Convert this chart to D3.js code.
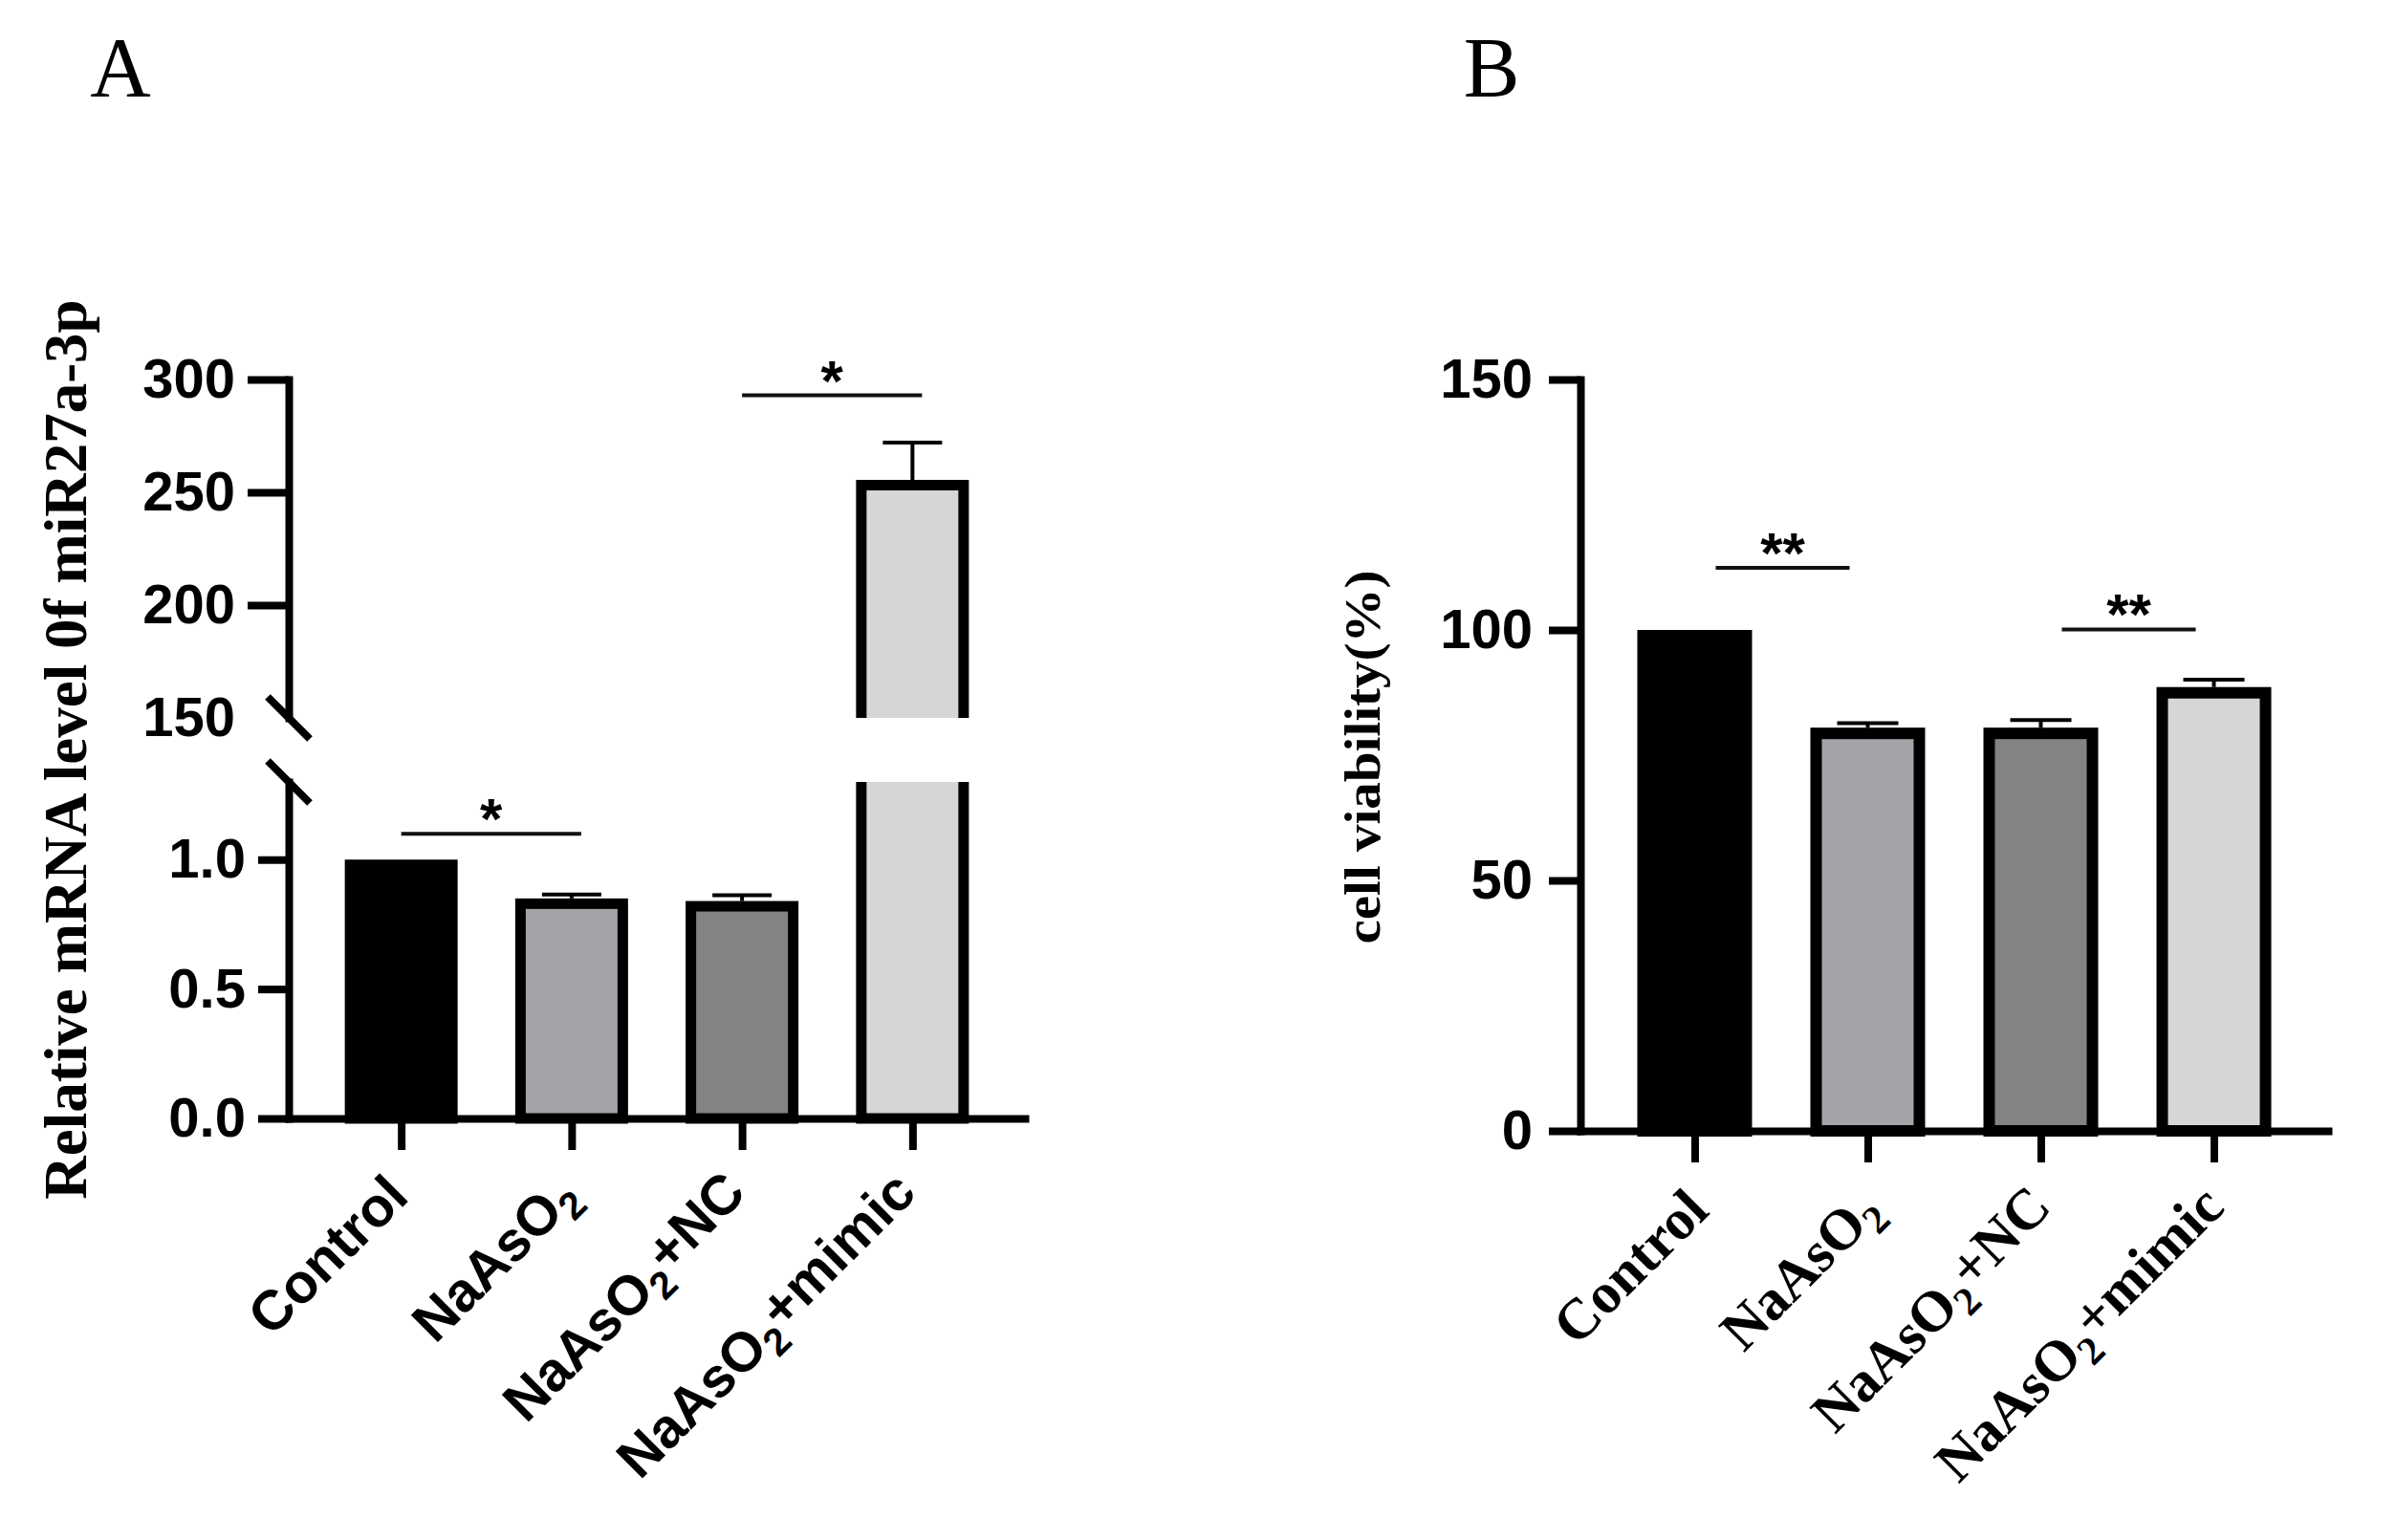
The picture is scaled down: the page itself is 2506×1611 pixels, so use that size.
<!DOCTYPE html>
<html>
<head>
<meta charset="utf-8">
<script src="https://cdn.jsdelivr.net/npm/d3@7"></script>
<style>
  body { margin: 0; background: #fff; }
  svg { display: block; }
</style>
</head>
<body>
<svg id="fig" width="2506" height="1611"></svg>
<script>
// data
var categories = ["Control", "NaAsO2", "NaAsO2+NC", "NaAsO2+mimic"];
var fills = ["#000000", "#a4a4a8", "#838383", "#d6d6d6"];

var mirnaMean = [1.0, 0.85, 0.84, 255.5];
var mirnaErr = [0, 0.015, 0.022, 16.5];
var mirnaLowTicks = [0, 0.5, 1.0];
var mirnaHighTicks = [150, 200, 250, 300];
var mirnaSig = [
	{a: 0, b: 1, y: 1.10, label: "*", seg: "low"},
	{a: 2, b: 3, y: 293, label: "*", seg: "high"}
];

var viabMean = [100, 80.5, 80.5, 88.6];
var viabErr = [0, 0.9, 1.5, 1.5];
var viabTicks = [0, 50, 100, 150];
var viabSig = [
	{a: 0, b: 1, y: 112.4, label: "**"},
	{a: 2, b: 3, y: 100.1, label: "**"}
];

var SANS = "'Liberation Sans', Arial, sans-serif",
	SERIF = "'Liberation Serif', 'Times New Roman', serif";

var svg = d3.select("#fig");
svg.append("rect").attr("width", 2506).attr("height", 1611).attr("fill", "#fff");

function styleAxis(g, fontSize){
	g.selectAll(".domain").attr("stroke", "#000").attr("stroke-width", 8)
		.attr("stroke-linecap", "square");
	g.selectAll(".tick line").attr("stroke", "#000").attr("stroke-width", 8);
	g.selectAll(".tick text").attr("fill", "#000")
		.style("font-family", SANS).style("font-weight", "bold")
		.style("font-size", fontSize + "px");
}

// label with subscript 2 in NaAsO2
function writeLabel(text, d){
	var parts = d.split("O2");
	text.append("tspan").text(parts[0] + (parts.length > 1 ? "O" : ""));
	if(parts.length > 1){
		text.append("tspan").text("2").attr("font-size", "0.7em").attr("dy", "0.3em");
		if(parts[1]) text.append("tspan").text(parts[1]).attr("dy", "-0.3em");
	}
}

function drawErr(g, cx, y0, y1, capW){
	g.append("line").attr("x1", cx).attr("x2", cx).attr("y1", y0).attr("y2", y1)
		.attr("stroke", "#000").attr("stroke-width", 4);
	g.append("line").attr("x1", cx - capW/2).attr("x2", cx + capW/2).attr("y1", y1).attr("y2", y1)
		.attr("stroke", "#000").attr("stroke-width", 4);
}

function drawSig(g, x1, x2, y, label){
	g.append("line").attr("x1", x1).attr("x2", x2).attr("y1", y).attr("y2", y)
		.attr("stroke", "#111").attr("stroke-width", 4);
	g.append("text").attr("x", (x1 + x2)/2).attr("y", y + 5)
		.attr("text-anchor", "middle").style("font-family", SANS)
		.style("font-weight", "bold").style("font-size", "60px").text(label);
}

// ---------- panel A ----------
(function(){
	var axisX = 302, baseY = 1170, breakHi = 751, breakLo = 818;
	var outerW = 118, sw = 11;
	var x = d3.scalePoint().domain(categories).range([axisX, 1072]).padding(0.66);
	var yLo = d3.scaleLinear().domain([0, 1.3]).range([baseY, breakLo]);
	var yHi = d3.scaleLinear().domain([150, 300]).range([breakHi, 397]);
	var g = svg.append("g");

	svg.append("text").attr("x", 126).attr("y", 100).attr("text-anchor", "middle")
		.style("font-family", SERIF).style("font-size", "88px").text("A");

	var defs = svg.append("defs");
	defs.append("clipPath").attr("id", "clipHi").append("rect")
		.attr("x", 0).attr("y", 0).attr("width", 1200).attr("height", yHi(150));
	defs.append("clipPath").attr("id", "clipLo").append("rect")
		.attr("x", 0).attr("y", yLo(1.3)).attr("width", 1200).attr("height", 600);

	// bars
	categories.forEach(function(c, i){
		var cx = x(c), v = mirnaMean[i], e = mirnaErr[i];
		var bx = cx - outerW/2 + sw/2, bw = outerW - sw;
		if(v <= 1.3){
			g.append("rect").attr("x", bx).attr("y", yLo(v) + sw/2)
				.attr("width", bw).attr("height", yLo(0) - yLo(v) - sw/2)
				.attr("fill", fills[i]).attr("stroke", "#000").attr("stroke-width", sw);
			if(e > 0) drawErr(g, cx, yLo(v), yLo(v + e), 62);
		} else {
			g.append("rect").attr("clip-path", "url(#clipHi)")
				.attr("x", bx).attr("y", yHi(v) + sw/2)
				.attr("width", bw).attr("height", yHi(150) - yHi(v) + 20)
				.attr("fill", fills[i]).attr("stroke", "#000").attr("stroke-width", sw);
			g.append("rect").attr("clip-path", "url(#clipLo)")
				.attr("x", bx).attr("y", yLo(1.3) - 20)
				.attr("width", bw).attr("height", yLo(0) - yLo(1.3) + 20)
				.attr("fill", fills[i]).attr("stroke", "#000").attr("stroke-width", sw);
			if(e > 0) drawErr(g, cx, yHi(v), yHi(v + e), 62);
		}
	});

	// axes
	var gLo = g.append("g").attr("transform", "translate(" + axisX + ",0)")
		.call(d3.axisLeft(yLo).tickValues(mirnaLowTicks).tickSize(32).tickSizeOuter(0)
			.tickPadding(13).tickFormat(d3.format(".1f")));
	styleAxis(gLo, 58);
	var gHi = g.append("g").attr("transform", "translate(" + axisX + ",0)")
		.call(d3.axisLeft(yHi).tickValues(mirnaHighTicks).tickSize(43).tickSizeOuter(0)
			.tickPadding(13));
	styleAxis(gHi, 58);
	gHi.selectAll(".tick").filter(function(d){ return d === 150; }).select("line").remove();

	var gx = g.append("g").attr("transform", "translate(0," + baseY + ")")
		.call(d3.axisBottom(x).tickSize(33).tickSizeOuter(0).tickFormat(""));
	styleAxis(gx, 54);

	// break marks
	[yHi(150), yLo(1.3)].forEach(function(yb){
		g.append("line").attr("x1", axisX - 22).attr("x2", axisX + 22)
			.attr("y1", yb - 22).attr("y2", yb + 22)
			.attr("stroke", "#000").attr("stroke-width", 8);
	});

	// x labels
	categories.forEach(function(c){
		var t = g.append("text")
			.attr("transform", "translate(" + (x(c) + 10) + ",1254) rotate(-45)")
			.attr("text-anchor", "end").style("font-family", SANS)
			.style("font-weight", "bold").style("font-size", "58px");
		writeLabel(t, c);
	});

	// significance
	mirnaSig.forEach(function(s){
		var yy = s.seg === "low" ? yLo(s.y) : yHi(s.y);
		drawSig(g, x(categories[s.a]), x(categories[s.b]) + 10, yy, s.label);
	});

	// y title
	g.append("text").attr("transform", "translate(90,784) rotate(-90)")
		.attr("text-anchor", "middle").style("font-family", SERIF)
		.style("font-weight", "bold").style("font-size", "63px")
		.text("Relative mRNA level 0f miR27a-3p");
})();

// ---------- panel B ----------
(function(){
	var axisX = 1653, baseY = 1183;
	var outerW = 120, sw = 12;
	var x = d3.scalePoint().domain(categories).range([axisX, 2435]).padding(0.66);
	var y = d3.scaleLinear().domain([0, 150]).range([baseY, 397]);
	var g = svg.append("g");

	svg.append("text").attr("x", 1560).attr("y", 100).attr("text-anchor", "middle")
		.style("font-family", SERIF).style("font-size", "88px").text("B");

	categories.forEach(function(c, i){
		var cx = x(c), v = viabMean[i], e = viabErr[i];
		g.append("rect").attr("x", cx - outerW/2 + sw/2).attr("y", y(v) + sw/2)
			.attr("width", outerW - sw).attr("height", y(0) - y(v) - sw/2)
			.attr("fill", fills[i]).attr("stroke", "#000").attr("stroke-width", sw);
		if(e > 0) drawErr(g, cx, y(v), y(v + e), 64);
	});

	var gy = g.append("g").attr("transform", "translate(" + axisX + ",0)")
		.call(d3.axisLeft(y).tickValues(viabTicks).tickSize(33).tickSizeOuter(0).tickPadding(17));
	styleAxis(gy, 58);
	var gx = g.append("g").attr("transform", "translate(0," + baseY + ")")
		.call(d3.axisBottom(x).tickSize(33).tickSizeOuter(0).tickFormat(""));
	styleAxis(gx, 54);

	categories.forEach(function(c){
		var t = g.append("text")
			.attr("transform", "translate(" + (x(c) + 17) + ",1269) rotate(-45)")
			.attr("text-anchor", "end").style("font-family", SERIF)
			.style("font-weight", "bold").style("font-size", "60px");
		writeLabel(t, c);
	});

	viabSig.forEach(function(s){
		drawSig(g, x(categories[s.a]) + 22, x(categories[s.b]) - 19, y(s.y), s.label);
	});

	g.append("text").attr("transform", "translate(1443,792) rotate(-90)")
		.attr("text-anchor", "middle").style("font-family", SERIF)
		.style("font-weight", "bold").style("font-size", "52px")
		.attr("textLength", 391).attr("lengthAdjust", "spacingAndGlyphs")
		.text("cell viability(%)");
})();
</script>
</body>
</html>
